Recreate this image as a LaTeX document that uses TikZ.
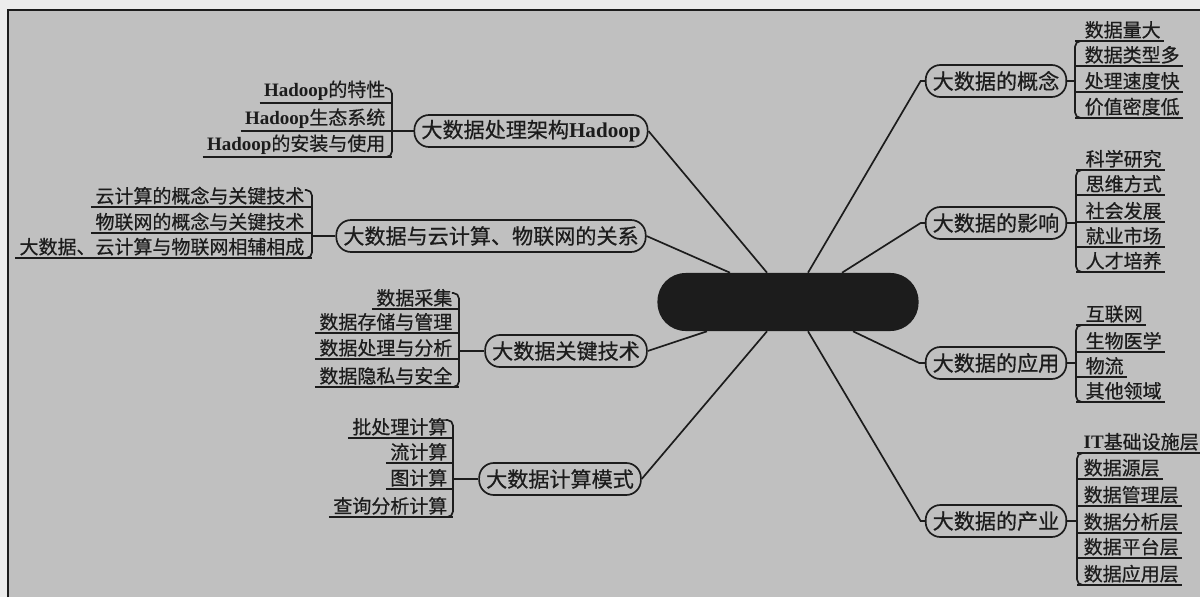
\documentclass[tikz,border=0pt]{standalone}
\usepackage{fontspec}
\newfontfamily\cjk{Noto Sans CJK SC}[FakeBold=0.6]
\newfontfamily\latf{Liberation Serif}
\usetikzlibrary{calc}
\definecolor{ink}{RGB}{28,28,28}
\definecolor{paper}{RGB}{192,192,192}
\definecolor{margin}{RGB}{236,236,236}
\newcommand{\Hd}{{\latf\bfseries Hadoop}}
\newcommand{\ITx}{{\latf\bfseries IT}}
\tikzset{
  wire/.style={draw=ink, line width=1.2pt},
  branch/.style={draw=ink, line width=1.2pt, rounded corners=10.5pt, minimum height=0.8cm,
    inner xsep=5pt, inner ysep=0pt, text=ink, font=\cjk\fontsize{15}{17}\selectfont},
  leafL/.style={anchor=south east, inner xsep=1pt, inner ysep=1.5pt, text=ink,
    font=\cjk\fontsize{13.5}{15}\selectfont},
  leafR/.style={anchor=south west, inner xsep=1pt, inner ysep=1.5pt, text=ink,
    font=\cjk\fontsize{13.5}{15}\selectfont},
  hub/.style={fill=ink, rounded corners=20pt, minimum width=6.525cm, minimum height=1.45cm, inner sep=0pt}
}
\begin{document}
\begin{tikzpicture}[x=0.025cm,y=-0.025cm]
\useasboundingbox (0,0) rectangle (1200,597);
\fill[margin] (0,0) rectangle (1200,597);
\fill[paper] (8,10) rectangle (1200,597);
\draw[ink, line width=1.2pt] (8,597) -- (8,10) -- (1200,10);

% hub
\node[hub] (hub) at (788,302) {};

% branches
\node[branch] (B1) at (531,131) {大数据处理架构\Hd};
\node[branch] (B2) at (491,236) {大数据与云计算、物联网的关系};
\node[branch] (B3) at (566,351) {大数据关键技术};
\node[branch] (B4) at (560,479) {大数据计算模式};
\node[branch] (R1) at (996,81) {大数据的概念};
\node[branch] (R2) at (996,223) {大数据的影响};
\node[branch] (R3) at (996,363) {大数据的应用};
\node[branch] (R4) at (996,521) {大数据的产业};

% hub connectors
\draw[wire] ($(hub.north)+(-21,0)$) -- (B1.east);
\draw[wire] ($(hub.north)+(-58,0)$) -- (B2.east);
\draw[wire] ($(hub.south)+(-81,0)$) -- (B3.east);
\draw[wire] ($(hub.south)+(-21,0)$) -- (B4.east);
\draw[wire] ($(hub.north)+(20,0)$) -- ([xshift=-3pt]R1.west) -- (R1.west);
\draw[wire] ($(hub.north)+(54,0)$) -- ([xshift=-3pt]R2.west) -- (R2.west);
\draw[wire] ($(hub.south)+(65,0)$) -- ([xshift=-4pt]R3.west) -- (R3.west);
\draw[wire] ($(hub.south)+(20,0)$) -- ([xshift=-3pt]R4.west) -- (R4.west);

% ---- left: Hadoop
\coordinate (aT) at (392,88); \coordinate (aB) at (392,157);
\node[leafL] (a1) at (387,103) {\Hd 的特性};
\node[leafL] (a2) at (387,131) {\Hd 生态系统};
\node[leafL] (a3) at (387,157) {\Hd 的安装与使用};
\foreach \n in {a1,a2,a3} \draw[wire] ([xshift=-2pt]\n.south west) -- (\n.south west -| aT);
\draw[wire, rounded corners=4pt] ([xshift=-5pt]aT) -- (aT) -- (aB) -- ([xshift=-5pt]aB);
\draw[wire] (aT |- B1) -- (B1.west);

% ---- left: cloud
\coordinate (bT) at (312,190); \coordinate (bB) at (312,258);
\node[leafL] (b1) at (306,207) {云计算的概念与关键技术};
\node[leafL] (b2) at (306,233) {物联网的概念与关键技术};
\node[leafL] (b3) at (306,258) {大数据、云计算与物联网相辅相成};
\foreach \n in {b1,b2,b3} \draw[wire] ([xshift=-2pt]\n.south west) -- (\n.south west -| bT);
\draw[wire, rounded corners=4pt] ([xshift=-5pt]bT) -- (bT) -- (bB) -- ([xshift=-5pt]bB);
\draw[wire] (bT |- B2) -- (B2.west);

% ---- left: key tech
\coordinate (cT) at (459,293); \coordinate (cB) at (459,387);
\node[leafL] (c1) at (454,309) {数据采集};
\node[leafL] (c2) at (454,333) {数据存储与管理};
\node[leafL] (c3) at (454,359) {数据处理与分析};
\node[leafL] (c4) at (454,387) {数据隐私与安全};
\foreach \n in {c1,c2,c3,c4} \draw[wire] ([xshift=-2pt]\n.south west) -- (\n.south west -| cT);
\draw[wire, rounded corners=4pt] ([xshift=-5pt]cT) -- (cT) -- (cB) -- ([xshift=-5pt]cB);
\draw[wire] (cT |- B3) -- (B3.west);

% ---- left: compute modes
\coordinate (dT) at (453,420); \coordinate (dB) at (453,517);
\node[leafL] (d1) at (449,438) {批处理计算};
\node[leafL] (d2) at (449,463) {流计算};
\node[leafL] (d3) at (449,489) {图计算};
\node[leafL] (d4) at (449,517) {查询分析计算};
\foreach \n in {d1,d2,d3,d4} \draw[wire] ([xshift=-2pt]\n.south west) -- (\n.south west -| dT);
\draw[wire, rounded corners=4pt] ([xshift=-5pt]dT) -- (dT) -- (dB) -- ([xshift=-5pt]dB);
\draw[wire] (dT |- B4) -- (B4.west);

% ---- right: concept
\coordinate (eT) at (1075,41); \coordinate (eB) at (1075,118);
\node[leafR] (e1) at (1083,41) {数据量大};
\node[leafR] (e2) at (1083,66) {数据类型多};
\node[leafR] (e3) at (1083,92) {处理速度快};
\node[leafR] (e4) at (1083,118) {价值密度低};
\foreach \n in {e1,e2,e3,e4} \draw[wire] (\n.south west -| eT) -- ([xshift=1pt]\n.south east);
\draw[wire, rounded corners=4pt] ([xshift=5pt]eT) -- (eT) -- (eB) -- ([xshift=5pt]eB);
\draw[wire] (R1.east) -- (R1.east -| eT);

% ---- right: influence
\coordinate (fT) at (1076,170); \coordinate (fB) at (1076,272);
\node[leafR] (f1) at (1084,170) {科学研究};
\node[leafR] (f2) at (1084,195) {思维方式};
\node[leafR] (f3) at (1084,222) {社会发展};
\node[leafR] (f4) at (1084,247) {就业市场};
\node[leafR] (f5) at (1084,272) {人才培养};
\foreach \n in {f1,f2,f3,f4,f5} \draw[wire] (\n.south west -| fT) -- ([xshift=1pt]\n.south east);
\draw[wire, rounded corners=4pt] ([xshift=5pt]fT) -- (fT) -- (fB) -- ([xshift=5pt]fB);
\draw[wire] (R2.east) -- (R2.east -| fT);

% ---- right: applications
\coordinate (gT) at (1076,325); \coordinate (gB) at (1076,402);
\node[leafR] (g1) at (1084,325) {互联网};
\node[leafR] (g2) at (1084,352) {生物医学};
\node[leafR] (g3) at (1084,377) {物流};
\node[leafR] (g4) at (1084,402) {其他领域};
\foreach \n in {g1,g2,g3,g4} \draw[wire] (\n.south west -| gT) -- ([xshift=1pt]\n.south east);
\draw[wire, rounded corners=4pt] ([xshift=5pt]gT) -- (gT) -- (gB) -- ([xshift=5pt]gB);
\draw[wire] (R3.east) -- (R3.east -| gT);

% ---- right: industry
\coordinate (hT) at (1077,453); \coordinate (hB) at (1077,585);
\node[leafR] (h1) at (1082,453) {\ITx 基础设施层};
\node[leafR] (h2) at (1082,479) {数据源层};
\node[leafR] (h3) at (1082,506) {数据管理层};
\node[leafR] (h4) at (1082,533) {数据分析层};
\node[leafR] (h5) at (1082,558) {数据平台层};
\node[leafR] (h6) at (1082,585) {数据应用层};
\foreach \n in {h1,h2,h3,h4,h5,h6} \draw[wire] (\n.south west -| hT) -- ([xshift=1pt]\n.south east);
\draw[wire, rounded corners=4pt] ([xshift=5pt]hT) -- (hT) -- (hB) -- ([xshift=5pt]hB);
\draw[wire] (R4.east) -- (R4.east -| hT);
\end{tikzpicture}
\end{document}
